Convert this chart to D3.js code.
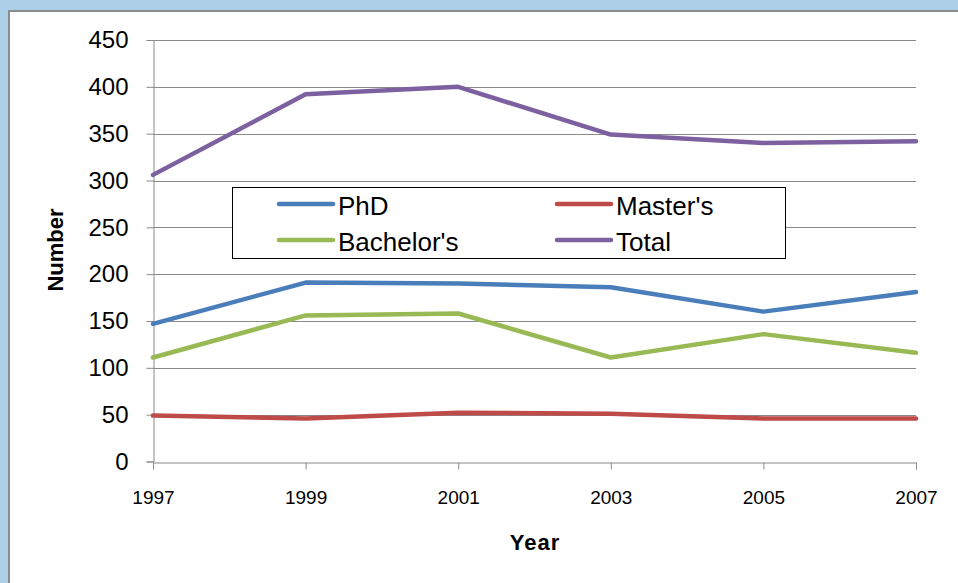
<!DOCTYPE html>
<html>
<head>
<meta charset="utf-8">
<script src="https://cdn.jsdelivr.net/npm/d3@7"></script>
<style>
html,body{margin:0;padding:0;background:#AACFE6;}
svg{display:block;}
text{font-family:"Liberation Sans",Arial,sans-serif;fill:#000;}
</style>
</head>
<body>
<script>
const years = [1997, 1999, 2001, 2003, 2005, 2007];
const seriesNames = ["PhD", "Master's", "Bachelor's", "Total"];
const phd = [147, 191, 190, 186, 160, 181];
const masters = [49, 46, 52, 51, 46, 46];
const bachelors = [111, 156, 158, 111, 136, 116];
const total = [306, 392, 400, 349, 340, 342];
const yTicks = [0, 50, 100, 150, 200, 250, 300, 350, 400, 450];
const colors = ["#4A7EBB", "#BE4B48", "#98B954", "#7D60A0"];

const W = 958, H = 583;
const svg = d3.select("body").append("svg").attr("width", W).attr("height", H);

// white panel
svg.append("rect").attr("x", 9).attr("y", 11).attr("width", W).attr("height", H)
  .attr("fill", "#fff").attr("stroke", "#8C8C8C").attr("stroke-width", 2);

const x = d3.scaleLinear().domain([1997, 2007]).range([153, 916]);
const y = d3.scaleLinear().domain([0, 450]).range([461.5, 40]);

// gridlines
svg.append("g").selectAll("line").data(yTicks.filter(d => d > 0)).join("line")
  .attr("x1", x(1997)).attr("x2", x(2007))
  .attr("y1", d => Math.round(y(d)) + 0.5).attr("y2", d => Math.round(y(d)) + 0.5)
  .attr("stroke", "#8A8A8A").attr("stroke-width", 1);

// y axis
const yAxis = d3.axisLeft(y).tickValues(yTicks).tickSize(7).tickPadding(18);
const gy = svg.append("g").attr("transform", `translate(${x(1997) + 0.5},0)`).call(yAxis);
gy.select(".domain").attr("stroke", "#8A8A8A");
gy.selectAll(".tick line").attr("stroke", "#8A8A8A");
gy.selectAll(".tick text").attr("font-size", 24).attr("font-family", '"Liberation Sans",Arial,sans-serif').attr("fill", "#000");

// x axis
const xAxis = d3.axisBottom(x).tickValues(years).tickFormat(d3.format("d")).tickSize(7).tickPadding(21);
const gx = svg.append("g").attr("transform", `translate(0,${Math.round(y(0)) + 0.5})`).call(xAxis);
gx.select(".domain").attr("stroke", "#8A8A8A");
gx.selectAll(".tick line").attr("stroke", "#8A8A8A");
gx.selectAll(".tick text").attr("font-size", 19).attr("font-family", '"Liberation Sans",Arial,sans-serif').attr("fill", "#000");

// lines
const allSeries = [phd, masters, bachelors, total];
const line = d3.line().x((d, i) => x(years[i])).y(d => y(d));
svg.append("g").selectAll("path").data([masters, bachelors, phd, total]).join("path")
  .attr("d", d => line(d))
  .attr("fill", "none")
  .attr("stroke", d => colors[allSeries.indexOf(d)])
  .attr("stroke-width", 4.5)
  .attr("stroke-linejoin", "round")
  .attr("stroke-linecap", "round");

// axis titles
svg.append("text").attr("x", 535).attr("y", 550).attr("text-anchor", "middle")
  .attr("font-size", 22).attr("font-weight", "bold").attr("letter-spacing", 1).text("Year");
svg.append("text").attr("transform", "translate(63,250) rotate(-90)").attr("text-anchor", "middle")
  .attr("font-size", 22).attr("font-weight", "bold").text("Number");

// legend
const lg = svg.append("g");
lg.append("rect").attr("x", 232.5).attr("y", 187.5).attr("width", 553).attr("height", 71)
  .attr("fill", "#fff").attr("stroke", "#000").attr("stroke-width", 1);
const legPos = [
  {lx: 279, ly: 204},
  {lx: 557, ly: 204},
  {lx: 279, ly: 240},
  {lx: 557, ly: 240}
];
seriesNames.forEach((name, i) => {
  const p = legPos[i];
  lg.append("line").attr("x1", p.lx).attr("x2", p.lx + 54).attr("y1", p.ly).attr("y2", p.ly)
    .attr("stroke", colors[i]).attr("stroke-width", 4.5).attr("stroke-linecap", "round");
  lg.append("text").attr("x", p.lx + 59).attr("y", p.ly + 11).attr("font-size", 26).text(name);
});
</script>
</body>
</html>
